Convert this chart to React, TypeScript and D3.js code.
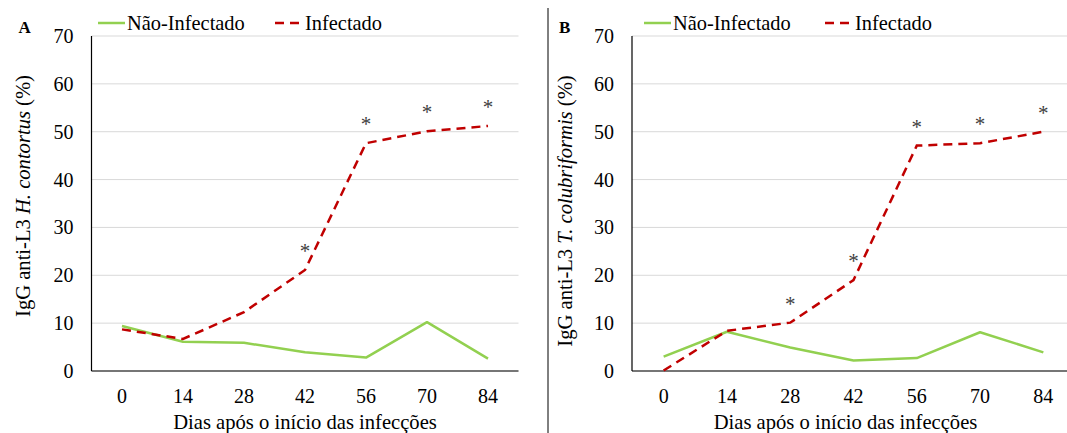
import React from "react";
import * as d3 from "d3";

const days = ["0", "14", "28", "42", "56", "70", "84"];
const yTicks = [0, 10, 20, 30, 40, 50, 60, 70];

const naoInfectadoA = [9.4, 6.1, 5.9, 3.9, 2.8, 10.2, 2.6];
const infectadoA = [8.7, 6.7, 12.3, 21.1, 47.6, 50.1, 51.2];
const starsA = [false, false, false, true, true, true, true];

const naoInfectadoB = [3.0, 8.2, 4.9, 2.2, 2.7, 8.1, 3.9];
const infectadoB = [0.1, 8.4, 10.1, 19.0, 47.1, 47.6, 50.0];
const starsB = [false, false, true, true, true, true, true];

const GREEN = "#92D050";
const RED = "#C00000";
const FONT = "'Liberation Serif', 'Times New Roman', serif";

type PanelProps = {
  label: string;
  left: number;
  right: number;
  species: string;
  yTitleX: number;
  yTitleY: number;
  legendGreenX: number;
  legendRedX: number;
  nao: number[];
  inf: number[];
  stars: boolean[];
};

function Panel(p: PanelProps) {
  const top = 36;
  const bottom = 371;
  const x = d3.scaleBand<string>().domain(days).range([p.left, p.right]);
  const y = d3.scaleLinear().domain([0, 70]).range([bottom, top]);
  const cx = (d: string) => (x(d) as number) + x.bandwidth() / 2;
  const line = d3
    .line<number>()
    .x((_, i) => cx(days[i]))
    .y((v) => y(v));
  return (
    <g fontFamily={FONT} fill="#000">
      {yTicks.map((t) => (
        <line key={"g" + t} x1={p.left} x2={p.right} y1={y(t)} y2={y(t)} stroke="#d9d9d9" strokeWidth={1} />
      ))}
      <line x1={p.left} x2={p.left} y1={top} y2={bottom} stroke="#000" strokeWidth={1.2} />
      <line x1={p.left} x2={p.right} y1={bottom} y2={bottom} stroke="#000" strokeWidth={1.2} />
      {yTicks.map((t) => (
        <text key={"t" + t} x={p.left - 18} y={y(t) + 7} fontSize={20} textAnchor="end">
          {t}
        </text>
      ))}
      {days.map((d) => (
        <text key={"x" + d} x={cx(d)} y={403} fontSize={20} textAnchor="middle">
          {d}
        </text>
      ))}
      <text x={(p.left + p.left + 427) / 2} y={429} fontSize={20.6} textAnchor="middle">
        Dias após o início das infecções
      </text>
      <text
        transform={`translate(${p.yTitleX},${p.yTitleY}) rotate(-90)`}
        fontSize={20.6}
        textAnchor="middle"
      >
        IgG anti-L3 <tspan fontStyle="italic">{p.species}</tspan> (%)
      </text>
      <text x={p.left - 73} y={33} fontSize={17} fontWeight="bold">
        {p.label}
      </text>
      <path d={line(p.nao) || ""} fill="none" stroke={GREEN} strokeWidth={2.5} strokeLinejoin="round" />
      <path d={line(p.inf) || ""} fill="none" stroke={RED} strokeWidth={2.5} strokeDasharray="9,6" />
      {p.stars.map((s, i) =>
        s ? (
          <text key={"s" + i} x={cx(days[i])} y={y(p.inf[i]) - 12} fontSize={21} textAnchor="middle" fill="#404040">
            *
          </text>
        ) : null
      )}
      <line x1={p.legendGreenX} x2={p.legendGreenX + 27} y1={23} y2={23} stroke={GREEN} strokeWidth={2.5} />
      <text x={p.legendGreenX + 29} y={30} fontSize={20.4}>
        Não-Infectado
      </text>
      <line x1={p.legendRedX} x2={p.legendRedX + 26} y1={23} y2={23} stroke={RED} strokeWidth={2.5} strokeDasharray="9,6" />
      <text x={p.legendRedX + 30} y={30} fontSize={20.4}>
        Infectado
      </text>
    </g>
  );
}

export default function App() {
  return (
    <svg
      width={1067}
      height={433}
      style={{ position: "absolute", left: 0, top: 0, background: "#fff" }}
    >
      <rect width={1067} height={433} fill="#fff" />
      <Panel
        label="A"
        left={91.5}
        right={518.5}
        species="H. contortus"
        yTitleX={30}
        yTitleY={196}
        legendGreenX={98}
        legendRedX={275}
        nao={naoInfectadoA}
        inf={infectadoA}
        stars={starsA}
      />
      <Panel
        label="B"
        left={632}
        right={1075}
        species="T. colubriformis"
        yTitleX={572}
        yTitleY={211}
        legendGreenX={644}
        legendRedX={825}
        nao={naoInfectadoB}
        inf={infectadoB}
        stars={starsB}
      />
      <line x1={548} x2={548} y1={8} y2={433} stroke="#000" strokeWidth={1} />
    </svg>
  );
}
